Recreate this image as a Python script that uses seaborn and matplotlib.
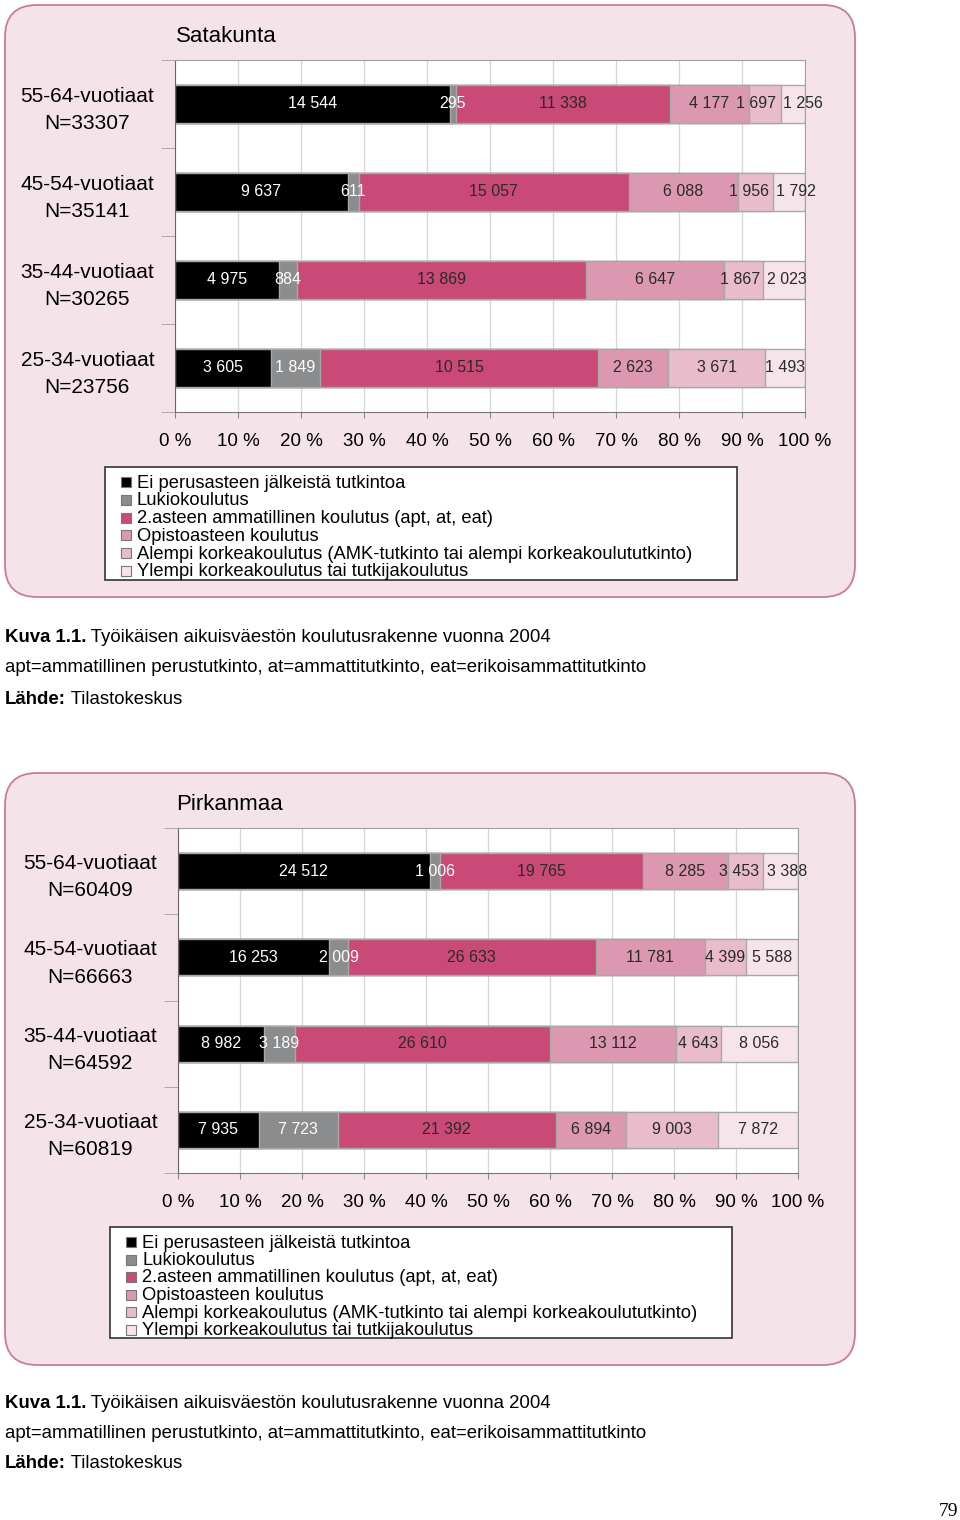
import numpy as np
import pandas as pd
import matplotlib.pyplot as plt
from matplotlib.patches import FancyBboxPatch, Rectangle
import seaborn as sns

plt.rcParams['font.family'] = ['Liberation Sans', 'DejaVu Sans']

# Koulutusasteet ja niiden värit
categories = ['Ei perusasteen jälkeistä tutkintoa',
              'Lukiokoulutus',
              '2.asteen ammatillinen koulutus (apt, at, eat)',
              'Opistoasteen koulutus',
              'Alempi korkeakoulutus (AMK-tutkinto tai alempi korkeakoulututkinto)',
              'Ylempi korkeakoulutus tai tutkijakoulutus']
colors = ['#000000', '#8b8c8e', '#c94a77', '#dc98b1', '#e9bccb', '#f6e4eb']

age_groups = ['55-64-vuotiaat', '45-54-vuotiaat', '35-44-vuotiaat', '25-34-vuotiaat']

# Satakunta
satakunta_n = [33307, 35141, 30265, 23756]
satakunta_values = [[14544, 295, 11338, 4177, 1697, 1256],
                    [9637, 611, 15057, 6088, 1956, 1792],
                    [4975, 884, 13869, 6647, 1867, 2023],
                    [3605, 1849, 10515, 2623, 3671, 1493]]

# Pirkanmaa
pirkanmaa_n = [60409, 66663, 64592, 60819]
pirkanmaa_values = [[24512, 1006, 19765, 8285, 3453, 3388],
                    [16253, 2009, 26633, 11781, 4399, 5588],
                    [8982, 3189, 26610, 13112, 4643, 8056],
                    [7935, 7723, 21392, 6894, 9003, 7872]]

caption_main = ' Työikäisen aikuisväestön koulutusrakenne vuonna 2004'
caption_abbr = 'apt=ammatillinen perustutkinto, at=ammattitutkinto, eat=erikoisammattitutkinto'

W, H = 960, 1520
fig = plt.figure(figsize=(W / 100, H / 100), dpi=100, facecolor='white')
renderer = fig.canvas.get_renderer()

# Taustakerros pikselikoordinaateissa (paneelit, selitteet, tekstit)
bg = fig.add_axes([0, 0, 1, 1], zorder=-1)
bg.set_xlim(0, W)
bg.set_ylim(H, 0)
bg.axis('off')


def px_rect(left, top, right, bottom):
    return [left / W, 1 - bottom / H, (right - left) / W, (bottom - top) / H]


def spread_labels(texts, centers, ax_px, gap=7):
    # siirretään vierekkäisiä lukuja erilleen, jos ne menevät päällekkäin
    scale = 100 / ax_px
    widths = [t.get_window_extent(renderer).width * scale for t in texts]
    pos = list(centers)
    for _ in range(20):
        for j in range(len(pos) - 1):
            need = (widths[j] + widths[j + 1]) / 2 + gap * scale
            d = need - (pos[j + 1] - pos[j])
            if d > 0:
                pos[j] -= d / 2
                pos[j + 1] += d / 2
    for t, p in zip(texts, pos):
        t.set_x(p)


def draw_chart(rect, values, totals, bar_width):
    ax = fig.add_axes(rect)
    labels = [f'{g}\nN={n}' for g, n in zip(age_groups, totals)]
    vals = np.array(values, dtype=float)
    pct = vals / np.array(totals)[:, None] * 100
    cum = pct.cumsum(axis=1)

    # pinottu palkki: piirretään kumulatiiviset palkit pisimmästä lyhimpään
    for k in range(len(categories) - 1, -1, -1):
        df = pd.DataFrame({'ryhma': labels, 'osuus': cum[:, k]})
        sns.barplot(data=df, x='osuus', y='ryhma', orient='h', color=colors[k],
                    saturation=1, width=bar_width, edgecolor='#a8a8a8',
                    linewidth=1.0, errorbar=None, ax=ax, zorder=2)

    ax_px = rect[2] * W
    for i in range(len(labels)):
        texts, centers = [], []
        for k in range(len(categories)):
            x = cum[i, k] - pct[i, k] / 2
            t = ax.text(x, i, f'{int(values[i][k]):,}'.replace(',', ' '),
                        ha='center', va='center', fontsize=11.5, clip_on=False,
                        color='white' if k < 2 else '#2a2a2a', zorder=3)
            texts.append(t)
            centers.append(x)
        spread_labels(texts, centers, ax_px)

    ax.set_xlim(0, 100)
    ax.set_ylim(3.5, -0.5)
    ax.set_xlabel('')
    ax.set_ylabel('')
    ax.set_facecolor('white')
    ax.set_axisbelow(True)
    ticks = list(range(0, 101, 10))
    ax.set_xticks(ticks)
    ax.set_xticklabels([f'{t} %' for t in ticks])
    ax.xaxis.grid(True, color='#d6d6d6', linewidth=0.9, zorder=0)
    ax.tick_params(axis='x', length=4, color='#888888', pad=11, labelsize=13.5)
    ax.tick_params(axis='y', which='major', length=0, pad=15, labelsize=15)
    ax.set_yticks([-0.5, 0.5, 1.5, 2.5, 3.5], minor=True)
    ax.tick_params(axis='y', which='minor', length=10, color='#a0a0a0')
    for t in ax.get_yticklabels():
        t.set_multialignment('center')
        t.set_linespacing(1.55)
    ax.spines['left'].set_color('#666666')
    ax.spines['bottom'].set_color('#777777')
    ax.spines['top'].set_color('#a0a0a0')
    ax.spines['right'].set_color('#a0a0a0')
    return ax


def draw_panel(top, title, legend_box, sq_x, first_y, step):
    bg.add_patch(FancyBboxPatch((5, top), 850, 592,
                                boxstyle='round,pad=0,rounding_size=32',
                                facecolor='#f5e3ea', edgecolor='#c77d95', linewidth=1.3))
    bg.text(176, top + 31, title, fontsize=16, va='center', ha='left')
    x0, y0, x1, y1 = legend_box
    bg.add_patch(Rectangle((x0, y0), x1 - x0, y1 - y0, facecolor='white',
                           edgecolor='#333333', linewidth=1.2, zorder=1))
    for k, (name, c) in enumerate(zip(categories, colors)):
        y = first_y + k * step
        bg.add_patch(Rectangle((sq_x, y - 5), 10, 10, facecolor=c,
                               edgecolor='#777777', linewidth=0.8, zorder=2))
        bg.text(sq_x + 16, y + 1, name, fontsize=13.2, va='center', ha='left', zorder=2)


def draw_caption(y):
    fs = 13.4
    t = bg.text(5, y, 'Kuva 1.1.', fontsize=fs, fontweight='bold', va='center', ha='left')
    bg.annotate(caption_main, xy=(1, 0), xycoords=t, fontsize=fs, va='bottom', ha='left')
    bg.text(5, y + 30, caption_abbr, fontsize=fs, va='center', ha='left')
    t2 = bg.text(5, y + 61, 'Lähde:', fontsize=fs, fontweight='bold', va='center', ha='left')
    bg.annotate(' Tilastokeskus', xy=(1, 0), xycoords=t2, fontsize=fs, va='bottom', ha='left')


# Satakunta
draw_panel(5, 'Satakunta', (105, 467, 737, 580), 121, 482, 17.8)
draw_chart(px_rect(175, 60, 805, 412), satakunta_values, satakunta_n, 0.43)
draw_caption(638)

# Pirkanmaa
draw_panel(773, 'Pirkanmaa', (110, 1227, 732, 1338), 126, 1242, 17.5)
draw_chart(px_rect(178, 828, 798, 1173), pirkanmaa_values, pirkanmaa_n, 0.42)
draw_caption(1403)

bg.text(948, 1512, '79', fontsize=14, ha='center', va='center',
        family=['Liberation Serif', 'DejaVu Serif'])

fig.savefig('out.png', dpi=100)
